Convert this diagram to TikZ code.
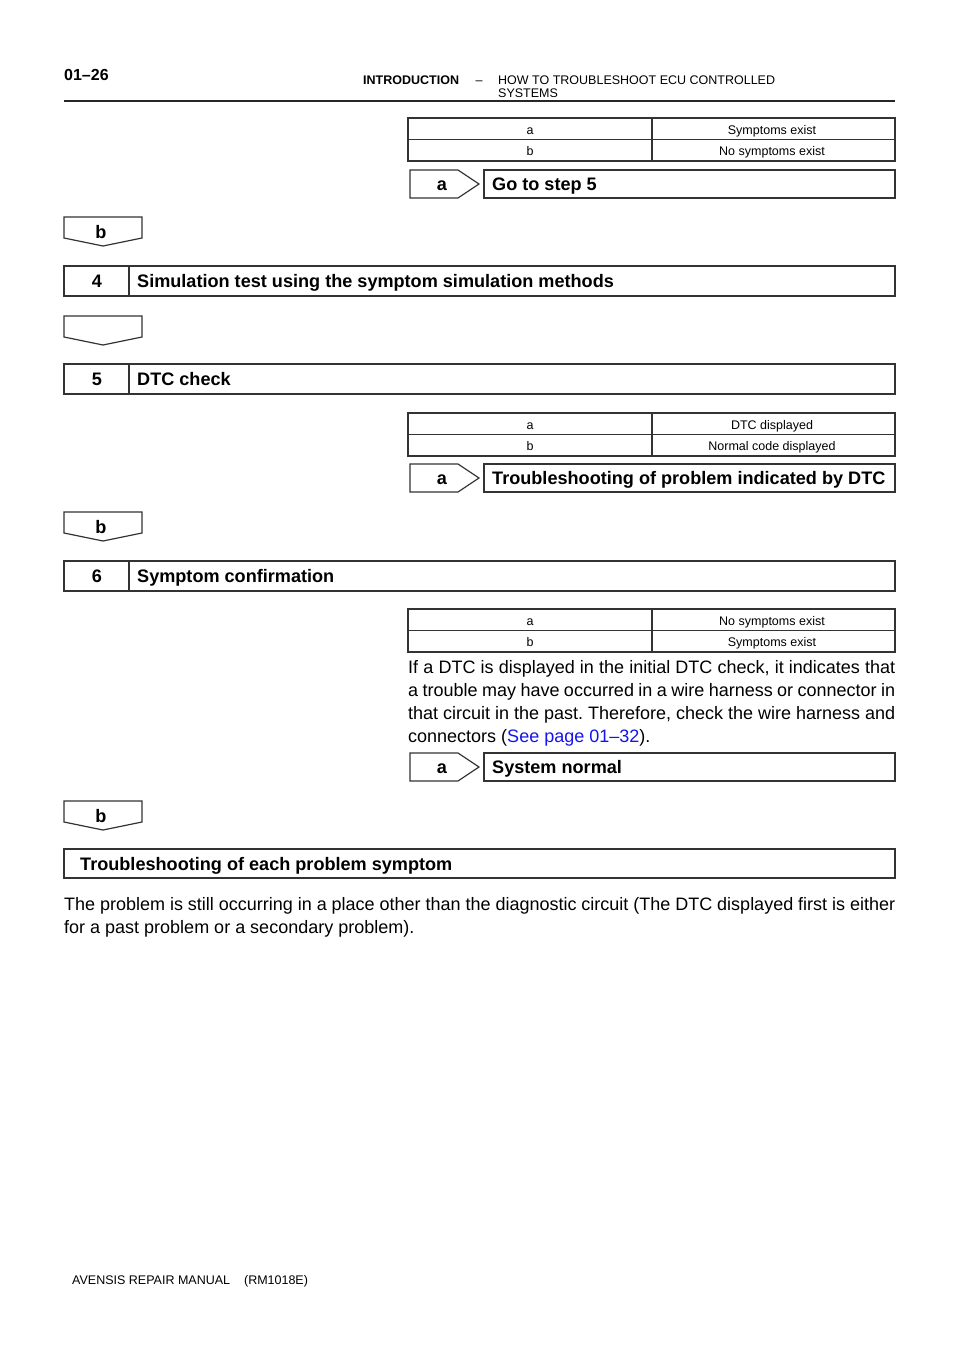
\documentclass[tikz,border=0pt]{standalone}
\usepackage{fontspec}
\setmainfont{Liberation Sans}
\frenchspacing
\definecolor{linkblue}{RGB}{20,20,235}
\tikzset{
  ln/.style={line width=1.2pt, draw=black!80, line join=miter},
  rule/.style={line width=2pt, draw=black!85},
  boldtxt/.style={font=\fontsize{18.1}{22}\selectfont\bfseries, inner sep=0pt, text height=15pt, text depth=1.6pt},
  smalltxt/.style={font=\fontsize{12.5}{14}\selectfont, inner sep=0pt, text height=11pt, text depth=0.6pt},
  hdrtxt/.style={font=\fontsize{12.5}{13}\selectfont, inner sep=0pt},
  paratxt/.style={font=\fontsize{18}{23}\selectfont, inner sep=0pt, align=justify},
}
\newcommand\choicetable[4]{% #1 top y, #2 name, #3 a text, #4 b text
  \draw[ln] (408,#1) rectangle (895,{#1+43});
  \draw[ln] (408,{#1+21.5}) -- (895,{#1+21.5});
  \draw[ln] (652,#1) -- (652,{#1+43});
  \node[smalltxt] (#2aa) at (530,{#1+11}) {a};
  \node[smalltxt] (#2at) at (772,{#1+11}) {#3};
  \node[smalltxt] (#2ba) at (530,{#1+32.5}) {b};
  \node[smalltxt] (#2bt) at (772,{#1+32.5}) {#4};
}
\newcommand\gobox[3]{% #1 top y, #2 name, #3 text
  \draw[ln] (410,#1) -- (458,#1) -- (479,{#1+14}) -- (458,{#1+28}) -- (410,{#1+28}) -- cycle;
  \node[boldtxt] (#2a) at (442,{#1+14}) {a};
  \draw[ln] (484,#1) rectangle (895,{#1+28});
  \node[boldtxt, anchor=west] (#2t) at (492,{#1+14}) {#3};
}
\newcommand\downbox[3]{% #1 top y, #2 name, #3 label
  \draw[ln] (64,#1) -- (142,#1) -- (142,{#1+21}) -- (103,{#1+29}) -- (64,{#1+21}) -- cycle;
  \node[boldtxt] (#2) at (101,{#1+14.5}) {#3};
}
\newcommand\stepbox[4]{% #1 top y, #2 name, #3 number, #4 text
  \draw[ln] (64,#1) rectangle (895,{#1+30});
  \draw[ln] (129,#1) -- (129,{#1+30});
  \node[boldtxt] (#2n) at (97,{#1+15}) {#3};
  \node[boldtxt, anchor=west] (#2t) at (137,{#1+15}) {#4};
}
\begin{document}
\begin{tikzpicture}[x=1pt,y=-1pt]
\useasboundingbox (0,0) rectangle (960,1358);
\fill[white] (0,0) rectangle (960,1358);

% header
\node[font=\fontsize{16}{18}\selectfont\bfseries, inner sep=0pt, anchor=base west] (pg) at (64,80) {01–26};
\node[hdrtxt, font=\fontsize{12.5}{13}\selectfont\bfseries, anchor=base west] (intro) at (363,84) {INTRODUCTION};
\node[hdrtxt, anchor=base] (hdash) at (479,84) {–};
\node[hdrtxt, anchor=base west] (sec1) at (498,84) {HOW TO TROUBLESHOOT ECU CONTROLLED};
\node[hdrtxt, anchor=base west] (sec2) at (498,97) {SYSTEMS};
\draw[rule] (64,100.5) -- (895,100.5);

% step 3 outcome
\choicetable{118}{t1}{Symptoms exist}{No symptoms exist}
\gobox{170}{g1}{Go to step 5}
\downbox{217}{d1}{b}

% step 4
\stepbox{266}{s4}{4}{Simulation test using the symptom simulation methods}
\downbox{316}{d2}{}

% step 5
\stepbox{364}{s5}{5}{DTC check}
\choicetable{413}{t2}{DTC displayed}{Normal code displayed}
\gobox{464}{g2}{Troubleshooting of problem indicated by DTC}
\downbox{512}{d3}{b}

% step 6
\stepbox{561}{s6}{6}{Symptom confirmation}
\choicetable{609}{t3}{No symptoms exist}{Symptoms exist}
\node[paratxt, text width=487pt, anchor=base west] (p1) at (408,673)
  {If a DTC is displayed in the initial DTC check, it indicates that a trouble may have occurred in a wire harness or connector in that circuit in the past. Therefore, check the wire harness and connectors (\textcolor{linkblue}{See page 01–32}).};
\gobox{753}{g3}{System normal}
\downbox{801}{d4}{b}

% final
\draw[ln] (64,849) rectangle (895,878);
\node[boldtxt, anchor=west] (fin) at (80,863.5) {Troubleshooting of each problem symptom};
\node[paratxt, text width=831pt, anchor=base west] (p2) at (64,910)
  {The problem is still occurring in a place other than the diagnostic circuit (The DTC displayed first is either for a past problem or a secondary problem).};

% footer
\node[hdrtxt, anchor=base west] (foot) at (72,1284) {AVENSIS REPAIR MANUAL\hspace{14pt}(RM1018E)};
\end{tikzpicture}
\end{document}
